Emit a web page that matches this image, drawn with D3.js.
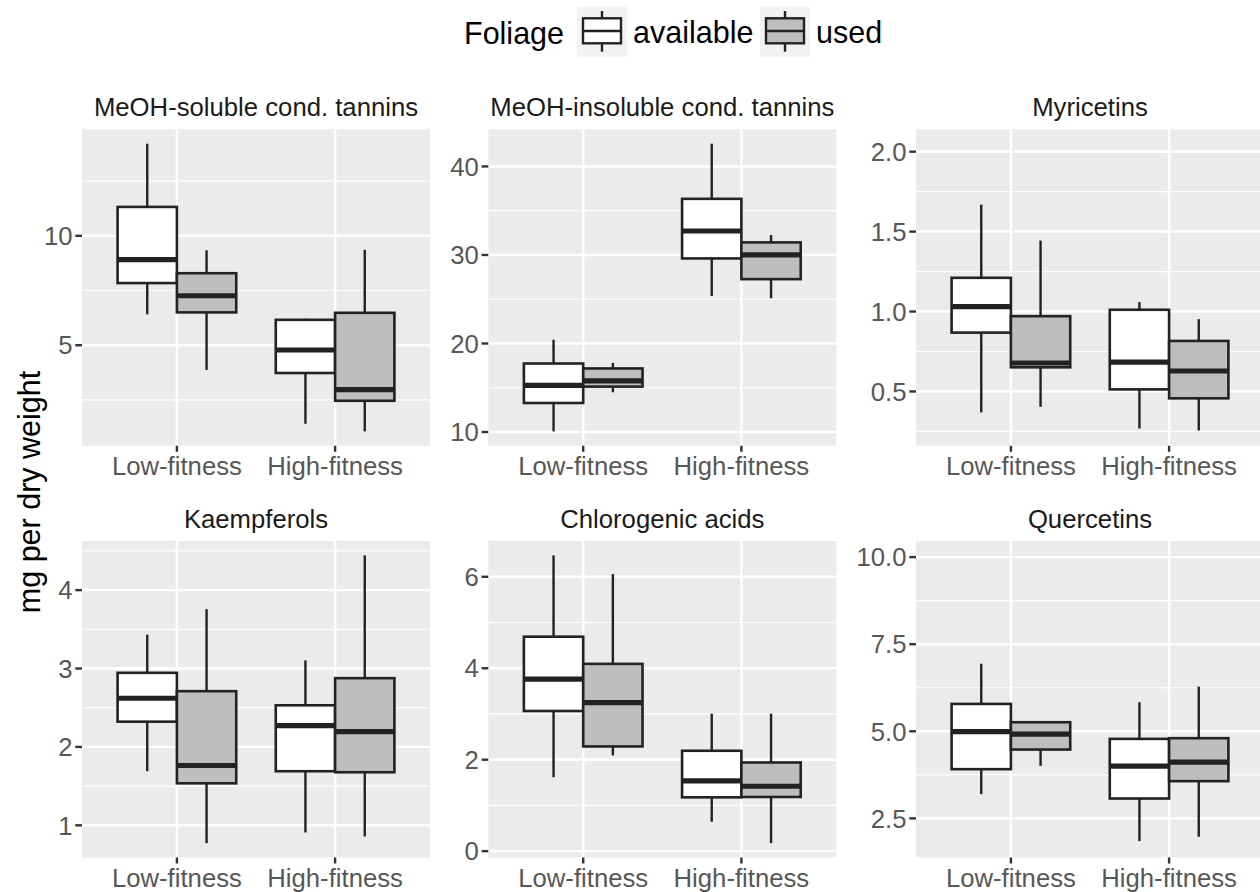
<!DOCTYPE html>
<html>
<head>
<meta charset="utf-8">
<script src="https://cdn.jsdelivr.net/npm/d3@7"></script>
<style>
  html, body { margin: 0; padding: 0; background: #fff; }
  svg { display: block; font-family: "Liberation Sans", Arial, Helvetica, sans-serif; }
</style>
</head>
<body>
<svg id="chart" width="1260" height="892"></svg>
<script>
// Facet titles, x categories and fill groups
const compounds = [
  "MeOH-soluble cond. tannins",
  "MeOH-insoluble cond. tannins",
  "Myricetins",
  "Kaempferols",
  "Chlorogenic acids",
  "Quercetins"
];
const fitness = ["Low-fitness", "High-fitness"];
const foliage = ["available", "used"];

// Boxplot statistics per compound, rows in order:
// Low/available, Low/used, High/available, High/used
// each row: [lower whisker, Q1, median, Q3, upper whisker]
const solubleTannins = [
  [6.41, 7.84, 8.91, 11.32, 14.21],
  [3.87, 6.50, 7.26, 8.29, 9.34],
  [1.41, 3.73, 4.78, 6.16, 6.21],
  [1.06, 2.46, 2.97, 6.48, 9.36]
];
const insolubleTannins = [
  [10.07, 13.28, 15.28, 17.74, 20.42],
  [14.49, 15.13, 15.77, 17.18, 17.81],
  [25.37, 29.61, 32.71, 36.34, 42.57],
  [25.11, 27.27, 30.00, 31.42, 32.25]
];
const myricetins = [
  [0.369, 0.868, 1.031, 1.211, 1.669],
  [0.404, 0.651, 0.678, 0.971, 1.444],
  [0.268, 0.513, 0.684, 1.011, 1.059],
  [0.256, 0.457, 0.628, 0.816, 0.952]
];
const kaempferols = [
  [1.690, 2.322, 2.621, 2.945, 3.432],
  [0.773, 1.536, 1.763, 2.711, 3.757],
  [0.909, 1.690, 2.271, 2.531, 3.104],
  [0.858, 1.677, 2.195, 2.877, 4.443]
];
const chlorogenicAcids = [
  [1.616, 3.065, 3.761, 4.690, 6.468],
  [2.092, 2.290, 3.249, 4.096, 6.059],
  [0.643, 1.177, 1.537, 2.195, 3.007],
  [0.176, 1.185, 1.419, 1.939, 3.007]
];
const quercetins = [
  [3.196, 3.913, 4.992, 5.786, 6.941],
  [4.008, 4.476, 4.917, 5.260, 5.260],
  [1.849, 3.070, 3.999, 4.782, 5.834],
  [1.973, 3.569, 4.114, 4.802, 6.282]
];
const boxStats = [solubleTannins, insolubleTannins, myricetins, kaempferols, chlorogenicAcids, quercetins];

// Full range of observations per compound (outliers are not drawn but set the scale)
const observedRange = [
  [1.06, 14.21],
  [10.07, 42.57],
  [0.25, 2.05],
  [0.773, 4.443],
  [0.176, 6.468],
  [1.79, 10.05]
];

// Y axis breaks and their labels
const tickValues = [
  [5, 10],
  [10, 20, 30, 40],
  [0.5, 1.0, 1.5, 2.0],
  [1, 2, 3, 4],
  [0, 2, 4, 6],
  [2.5, 5.0, 7.5, 10.0]
];
const tickLabels = [
  ["5", "10"],
  ["10", "20", "30", "40"],
  ["0.5", "1.0", "1.5", "2.0"],
  ["1", "2", "3", "4"],
  ["0", "2", "4", "6"],
  ["2.5", "5.0", "7.5", "10.0"]
];

const yTitle = "mg per dry weight";
const legendTitle = "Foliage";

// ---- layout ----
const panelLeft = [82, 488.3, 916];
const panelTop = [129.3, 541];
const panelW = 348, panelH = 316.5;
const fills = { available: "#ffffff", used: "#bebebe" };
const ink = "#222222";
const axisGrey = "#575757";
const smallFont = 25.7, bigFont = 30.5;

const svg = d3.select("#chart");

compounds.forEach((title, p) => {
  const col = p % 3, row = Math.floor(p / 3);
  const x0 = panelLeft[col], y0 = panelTop[row];
  const g = svg.append("g").attr("transform", `translate(${x0},${y0})`);

  // scales
  const [lo, hi] = observedRange[p];
  const pad = (hi - lo) * 0.05;
  const y = d3.scaleLinear().domain([lo - pad, hi + pad]).range([panelH, 0]);
  const x = d3.scalePoint().domain(fitness).range([0, panelW]).padding(0.6);
  const step = x.step();
  const dodge = d3.scaleBand().domain(foliage).range([-0.375 * step, 0.375 * step]).padding(0);

  // panel background
  g.append("rect").attr("width", panelW).attr("height", panelH).attr("fill", "#ebebeb");

  // minor gridlines: halfway between major breaks
  const ticks = tickValues[p];
  const gap = ticks[1] - ticks[0];
  const minor = [];
  for (let v = ticks[0] - gap / 2; v <= ticks[ticks.length - 1] + gap / 2 + 1e-9; v += gap) minor.push(v);
  const [d0, d1] = y.domain();
  g.selectAll(".minor").data(minor.filter(v => v >= d0 && v <= d1)).join("line")
    .attr("x1", 0).attr("x2", panelW)
    .attr("y1", d => y(d)).attr("y2", d => y(d))
    .attr("stroke", "#fff").attr("stroke-width", 1.2);

  // major gridlines
  g.selectAll(".majorY").data(ticks).join("line")
    .attr("x1", 0).attr("x2", panelW)
    .attr("y1", d => y(d)).attr("y2", d => y(d))
    .attr("stroke", "#fff").attr("stroke-width", 2.4);
  g.selectAll(".majorX").data(fitness).join("line")
    .attr("x1", d => x(d)).attr("x2", d => x(d))
    .attr("y1", 0).attr("y2", panelH)
    .attr("stroke", "#fff").attr("stroke-width", 2.4);

  // boxes
  const boxes = [];
  fitness.forEach((f, i) => foliage.forEach((fo, j) => {
    boxes.push({ f, fo, s: boxStats[p][i * 2 + j] });
  }));
  const bw = dodge.bandwidth();
  const bg = g.selectAll(".box").data(boxes).join("g")
    .attr("transform", d => `translate(${x(d.f) + dodge(d.fo)},0)`);
  // whiskers
  bg.append("line")
    .attr("x1", bw / 2).attr("x2", bw / 2)
    .attr("y1", d => y(d.s[3])).attr("y2", d => y(d.s[4]))
    .attr("stroke", ink).attr("stroke-width", 2.4);
  bg.append("line")
    .attr("x1", bw / 2).attr("x2", bw / 2)
    .attr("y1", d => y(d.s[1])).attr("y2", d => y(d.s[0]))
    .attr("stroke", ink).attr("stroke-width", 2.4);
  // box body
  bg.append("rect")
    .attr("x", 0).attr("width", bw)
    .attr("y", d => y(d.s[3]))
    .attr("height", d => y(d.s[1]) - y(d.s[3]))
    .attr("fill", d => fills[d.fo])
    .attr("stroke", ink).attr("stroke-width", 2.6);
  // median
  bg.append("line")
    .attr("x1", 0).attr("x2", bw)
    .attr("y1", d => y(d.s[2])).attr("y2", d => y(d.s[2]))
    .attr("stroke", ink).attr("stroke-width", 5.2);

  // y axis ticks and labels
  g.selectAll(".ytick").data(ticks).join("line")
    .attr("x1", -6.7).attr("x2", 0)
    .attr("y1", d => y(d)).attr("y2", d => y(d))
    .attr("stroke", "#333").attr("stroke-width", 2.4);
  g.selectAll(".ylab").data(ticks).join("text")
    .attr("x", -9.5).attr("y", d => y(d))
    .attr("dy", "0.36em")
    .attr("text-anchor", "end")
    .attr("font-size", smallFont).attr("fill", axisGrey)
    .text((d, i) => tickLabels[p][i]);

  // x axis ticks and labels
  g.selectAll(".xtick").data(fitness).join("line")
    .attr("x1", d => x(d)).attr("x2", d => x(d))
    .attr("y1", panelH).attr("y2", panelH + 6)
    .attr("stroke", "#333").attr("stroke-width", 2.4);
  g.selectAll(".xlab").data(fitness).join("text")
    .attr("x", d => x(d)).attr("y", panelH + 29.5)
    .attr("text-anchor", "middle")
    .attr("font-size", smallFont).attr("fill", axisGrey)
    .text(d => d);

  // facet title
  g.append("text")
    .attr("x", panelW / 2).attr("y", -13.5)
    .attr("text-anchor", "middle")
    .attr("font-size", smallFont).attr("fill", "#1a1a1a")
    .text(title);
});

// y axis title
svg.append("text")
  .attr("transform", "translate(40,492) rotate(-90)")
  .attr("text-anchor", "middle")
  .attr("font-size", bigFont).attr("fill", "#000")
  .text(yTitle);

// legend
const legend = svg.append("g");
legend.append("text")
  .attr("x", 464).attr("y", 43.5)
  .attr("font-size", bigFont).attr("fill", "#000")
  .text(legendTitle);
const keyX = { available: 577, used: 760 };
const keyTop = 6.7, keySize = 50;
foliage.forEach(fo => {
  const k = legend.append("g").attr("transform", `translate(${keyX[fo]},${keyTop})`);
  k.append("rect").attr("width", keySize).attr("height", keySize).attr("fill", "#f2f2f2");
  k.append("line").attr("x1", 25).attr("x2", 25).attr("y1", 4.3).attr("y2", 45)
    .attr("stroke", ink).attr("stroke-width", 2.4);
  k.append("rect").attr("x", 6).attr("y", 11.6).attr("width", 38).attr("height", 25)
    .attr("fill", fills[fo]).attr("stroke", ink).attr("stroke-width", 2.4);
  k.append("line").attr("x1", 6).attr("x2", 44).attr("y1", 24.3).attr("y2", 24.3)
    .attr("stroke", ink).attr("stroke-width", 2.4);
  k.append("text")
    .attr("x", keySize + 6).attr("y", 43.5 - keyTop)
    .attr("font-size", bigFont).attr("fill", "#000")
    .text(fo);
});
</script>
</body>
</html>
